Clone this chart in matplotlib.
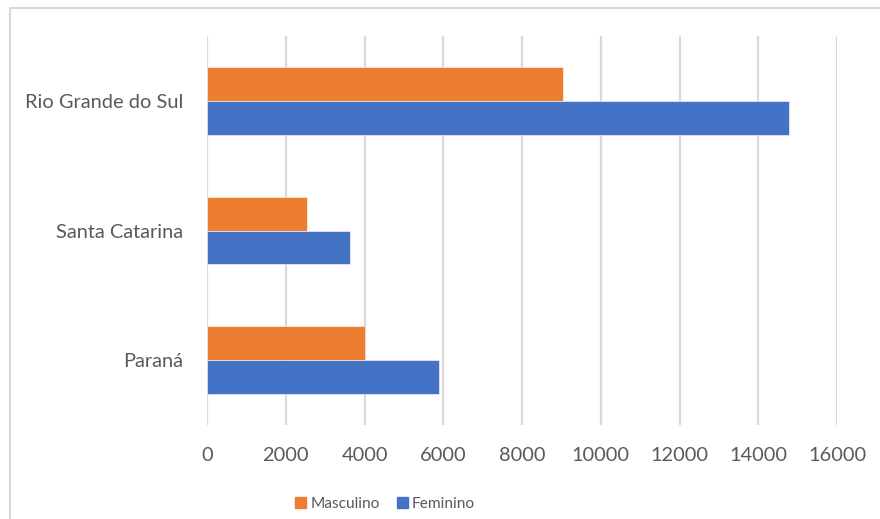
import matplotlib.pyplot as plt
import numpy as np
from matplotlib.patches import Patch, Rectangle

# data
categories = ["Paraná", "Santa Catarina", "Rio Grande do Sul"]
masculino = [4020, 2530, 9040]
feminino = [5900, 3640, 14770]
xticks = [0, 2000, 4000, 6000, 8000, 10000, 12000, 14000, 16000]

ORANGE = "#ED7D31"
BLUE = "#4472C4"
GRID = "#D9D9D9"
TEXT = "#595959"


def main():
    plt.rcParams["font.family"] = ["Lato", "DejaVu Sans"]

    fig = plt.figure(figsize=(8.8, 5.19), dpi=100)
    ax = fig.add_axes([207 / 880, 1 - 425 / 519, 630 / 880, 389 / 519])

    y = np.arange(len(categories))
    h = 0.26
    ax.barh(y + h / 2, masculino, height=h, color=ORANGE, label="Masculino",
            edgecolor="white", linewidth=0.4, zorder=3)
    ax.barh(y - h / 2, feminino, height=h, color=BLUE, label="Feminino",
            edgecolor="white", linewidth=0.4, zorder=3)

    ax.set_xlim(0, 16000)
    ax.set_ylim(-0.5, 2.5)
    ax.set_xticks(xticks)
    ax.set_yticks(y)
    ax.set_yticklabels(categories)
    ax.tick_params(axis="both", length=0, labelsize=14.4, colors=TEXT)
    ax.tick_params(axis="x", pad=15.5)
    ax.tick_params(axis="y", pad=17)
    ax.grid(axis="x", color=GRID, linewidth=1.6)
    ax.set_axisbelow(True)
    for s in ax.spines.values():
        s.set_visible(False)

    # outer chart frame (cut off at right and bottom in the reference)
    fig.add_artist(Rectangle((10 / 880, -0.1), 1.0, 1 - 8 / 519 + 0.1,
                             transform=fig.transFigure, fill=False,
                             edgecolor=GRID, linewidth=1.5, clip_on=False))

    handles = [Patch(color=ORANGE, label="Masculino"),
               Patch(color=BLUE, label="Feminino")]
    fig.legend(handles=handles, loc="center", bbox_to_anchor=(385 / 880, 1 - 504 / 519),
               ncol=2, frameon=False, fontsize=11.2, labelcolor=TEXT,
               handlelength=0.7, handleheight=0.7, handletextpad=0.25,
               columnspacing=1.1)

    fig.savefig("out.png", dpi=100)


if __name__ == "__main__":
    main()
